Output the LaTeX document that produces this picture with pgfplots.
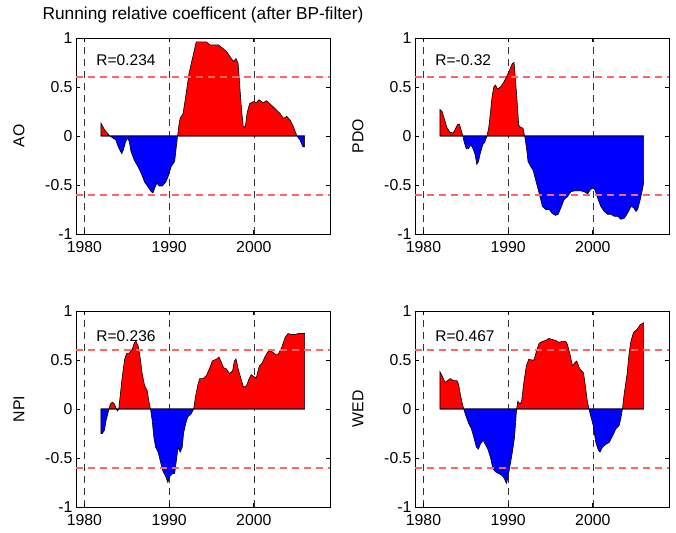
\documentclass[border=0pt]{standalone}
\usepackage{fontspec}
\setmainfont{Liberation Sans}
\usepackage{pgfplots}
\usepackage{pgfplotstable}
\pgfplotsset{compat=1.18}

\pgfplotstableread{
x v
1981.95 0.13
1982.4 0.06
1983.0 0
1983.35 -0.02
1983.7 -0.04
1983.9 -0.09
1984.1 -0.13
1984.4 -0.18
1984.6 -0.14
1984.85 -0.06
1985.1 -0.02
1985.3 -0.06
1985.5 -0.16
1985.9 -0.25
1986.3 -0.31
1986.7 -0.38
1987.1 -0.47
1987.5 -0.52
1987.9 -0.57
1988.1 -0.58
1988.35 -0.52
1988.55 -0.48
1988.8 -0.51
1989.2 -0.51
1989.6 -0.47
1989.9 -0.41
1990.25 -0.31
1990.65 -0.26
1990.85 -0.11
1991.0 0
1991.15 0.11
1991.3 0.18
1991.65 0.23
1991.95 0.40
1992.35 0.64
1992.8 0.81
1993.2 0.96
1994.4 0.96
1994.8 0.93
1995.8 0.93
1996.4 0.89
1996.8 0.86
1997.35 0.79
1997.6 0.76
1997.9 0.79
1998.15 0.74
1998.35 0.50
1998.55 0.27
1998.75 0.10
1999.0 0.09
1999.2 0.23
1999.5 0.33
1999.9 0.35
2000.3 0.34
2000.6 0.37
2001.1 0.34
2001.5 0.36
2001.9 0.33
2002.5 0.28
2003.1 0.23
2003.5 0.18
2003.9 0.20
2004.3 0.16
2004.65 0.10
2005.1 0
2005.45 -0.04
2005.8 -0.11
2006.0 -0.11
}\aodata

\pgfplotstableread{
x v
1981.95 0.27
1982.2 0.25
1982.45 0.18
1982.75 0.09
1983.1 0.04
1983.5 0.03
1983.75 0.07
1984.05 0.12
1984.25 0.12
1984.45 0.06
1984.65 0
1984.8 -0.06
1985.05 -0.13
1985.3 -0.13
1985.6 -0.09
1985.85 -0.13
1986.1 -0.19
1986.3 -0.29
1986.5 -0.26
1986.7 -0.18
1987.0 -0.09
1987.25 -0.06
1987.5 0
1987.7 0.08
1987.9 0.23
1988.1 0.40
1988.3 0.50
1988.5 0.52
1988.75 0.48
1989.1 0.50
1989.5 0.55
1989.9 0.62
1990.2 0.68
1990.5 0.74
1990.7 0.75
1990.9 0.54
1991.1 0.30
1991.25 0.11
1991.45 0.09
1991.75 0.08
1991.95 0
1992.15 -0.11
1992.35 -0.26
1992.65 -0.31
1992.95 -0.35
1993.25 -0.45
1993.65 -0.58
1994.05 -0.72
1994.45 -0.75
1994.85 -0.75
1995.2 -0.79
1995.6 -0.81
1995.9 -0.80
1996.2 -0.74
1996.6 -0.65
1997.0 -0.62
1997.4 -0.57
1997.8 -0.56
1998.2 -0.56
1998.6 -0.56
1999.0 -0.57
1999.4 -0.59
1999.7 -0.55
2000.0 -0.53
2000.25 -0.55
2000.55 -0.63
2000.95 -0.72
2001.35 -0.77
2001.75 -0.80
2002.15 -0.80
2002.55 -0.82
2002.95 -0.82
2003.3 -0.85
2003.7 -0.84
2004.1 -0.79
2004.5 -0.72
2004.8 -0.73
2005.1 -0.77
2005.3 -0.75
2005.6 -0.65
2005.9 -0.53
2006.0 -0.48
}\pdodata

\pgfplotstableread{
x v
1981.95 -0.25
1982.1 -0.25
1982.35 -0.22
1982.55 -0.12
1982.75 -0.05
1982.9 0
1983.05 0.05
1983.3 0.07
1983.55 0.05
1983.75 0
1983.9 -0.02
1984.05 0
1984.2 0.12
1984.45 0.32
1984.75 0.51
1985.0 0.57
1985.3 0.57
1985.65 0.61
1985.9 0.68
1986.1 0.69
1986.35 0.64
1986.6 0.51
1986.8 0.37
1987.1 0.24
1987.4 0.19
1987.6 0.08
1987.8 0
1988.0 -0.12
1988.2 -0.29
1988.4 -0.39
1988.7 -0.44
1988.95 -0.53
1989.25 -0.63
1989.6 -0.69
1989.85 -0.75
1990.05 -0.69
1990.4 -0.66
1990.65 -0.66
1990.85 -0.53
1991.05 -0.39
1991.3 -0.44
1991.55 -0.39
1991.7 -0.25
1991.95 -0.15
1992.2 -0.08
1992.6 -0.05
1992.9 0
1993.1 0.12
1993.4 0.25
1993.6 0.31
1994.0 0.31
1994.4 0.34
1994.8 0.42
1995.1 0.49
1995.6 0.51
1995.9 0.53
1996.2 0.47
1996.45 0.42
1996.75 0.41
1997.15 0.36
1997.5 0.39
1997.7 0.49
1997.9 0.51
1998.15 0.41
1998.55 0.29
1998.8 0.22
1999.15 0.24
1999.45 0.31
1999.7 0.35
2000.0 0.33
2000.3 0.32
2000.65 0.44
2001.0 0.47
2001.3 0.53
2001.7 0.59
2002.1 0.59
2002.5 0.56
2002.9 0.56
2003.3 0.63
2003.7 0.73
2004.05 0.77
2004.45 0.76
2004.85 0.76
2005.25 0.77
2005.65 0.77
2006.0 0.77
}\npidata

\pgfplotstableread{
x v
1981.95 0.38
1982.2 0.34
1982.55 0.27
1982.85 0.29
1983.15 0.31
1983.55 0.29
1983.95 0.29
1984.15 0.25
1984.35 0.15
1984.55 0.07
1984.75 0
1985.05 -0.08
1985.35 -0.15
1985.65 -0.20
1985.95 -0.29
1986.25 -0.39
1986.5 -0.41
1986.7 -0.36
1987.05 -0.32
1987.3 -0.36
1987.6 -0.41
1987.9 -0.49
1988.2 -0.61
1988.5 -0.64
1988.9 -0.66
1989.3 -0.68
1989.55 -0.71
1989.8 -0.76
1989.95 -0.71
1990.2 -0.59
1990.5 -0.44
1990.75 -0.29
1991.0 0
1991.15 0.08
1991.4 0.05
1991.6 0.08
1991.85 0.27
1992.15 0.44
1992.45 0.51
1992.7 0.50
1993.05 0.50
1993.35 0.59
1993.65 0.67
1994.05 0.69
1994.45 0.70
1994.8 0.72
1995.2 0.71
1995.6 0.70
1996.0 0.68
1996.4 0.69
1996.8 0.69
1997.0 0.66
1997.3 0.56
1997.6 0.44
1997.85 0.47
1998.1 0.49
1998.4 0.42
1998.65 0.39
1998.9 0.37
1999.1 0.25
1999.35 0.08
1999.55 0
1999.75 -0.07
2000.05 -0.17
2000.35 -0.34
2000.65 -0.42
2000.85 -0.44
2001.15 -0.39
2001.55 -0.36
2001.95 -0.34
2002.35 -0.27
2002.75 -0.20
2003.1 -0.17
2003.3 -0.10
2003.5 0
2003.7 0.15
2004.05 0.36
2004.3 0.58
2004.5 0.69
2004.8 0.78
2005.2 0.81
2005.6 0.86
2006.0 0.88
}\weddata

\definecolor{thrred}{rgb}{1,0.4,0.4}

\tikzset{
  posfill/.style={draw=black, fill=red, line width=0.6pt},
  negfill/.style={draw=black, fill=blue, line width=0.6pt},
  thr/.style={thrred, line width=1.7pt, dash pattern=on 7pt off 5pt},
  rlab/.style={anchor=west, font=\fontsize{15.5}{18}\selectfont},
}

\pgfplotsset{
  panel/.style={
    scale only axis, width=254pt, height=196pt,
    xmin=1979, xmax=2009, ymin=-1, ymax=1,
    xtick={1980,1990,2000}, xticklabels={1980,1990,2000},
    ytick={-1,-0.5,0,0.5,1}, yticklabels={-1,-0.5,0,0.5,1},
    tick align=inside, tick pos=both, major tick length=4pt,
    xmajorgrids,
    major grid style={black!80, dash pattern=on 7pt off 5pt, line width=0.6pt},
    ticklabel style={font=\fontsize{15.8}{18}\selectfont},
    xticklabel style={yshift=-4pt},
    /pgf/number format/assume math mode=true,
    axis line style={line width=0.8pt},
    tick style={black, line width=0.7pt},
    ylabel style={font=\fontsize{15.8}{18}\selectfont, at={(axis description cs:0,0.5)}, anchor=center, rotate=0, yshift=57pt},
  },
}

\newcommand{\panelplots}[1]{%
  \addplot[posfill] table[x=x, y expr={max(\thisrow{v},0)}] {#1} \closedcycle;
  \addplot[negfill] table[x=x, y expr={min(\thisrow{v},0)}] {#1} \closedcycle;
  \addplot[thr] coordinates {(1979,0.6) (2009,0.6)};
  \addplot[thr] coordinates {(1979,-0.6) (2009,-0.6)};
}

\begin{document}
\begin{tikzpicture}
\useasboundingbox (0,0) rectangle (676pt,532pt);

\begin{axis}[panel, at={(76pt,298pt)}, anchor=south west, ylabel={AO},
  title={Running relative coefficent (after BP-filter)},
  title style={font=\fontsize{17.3}{20}\selectfont, at={(axis description cs:0.5,1)}, anchor=base, yshift=12pt}]
\panelplots{\aodata}
\node[rlab] at (axis cs:1981,0.77) {R=0.234};
\end{axis}

\begin{axis}[panel, at={(415pt,298pt)}, anchor=south west, ylabel={PDO}]
\panelplots{\pdodata}
\node[rlab] at (axis cs:1981,0.77) {R=-0.32};
\end{axis}

\begin{axis}[panel, at={(76pt,25pt)}, anchor=south west, ylabel={NPI}]
\panelplots{\npidata}
\node[rlab] at (axis cs:1981,0.745) {R=0.236};
\end{axis}

\begin{axis}[panel, at={(415pt,25pt)}, anchor=south west, ylabel={WED}]
\panelplots{\weddata}
\node[rlab] at (axis cs:1981,0.745) {R=0.467};
\end{axis}

\end{tikzpicture}
\end{document}
